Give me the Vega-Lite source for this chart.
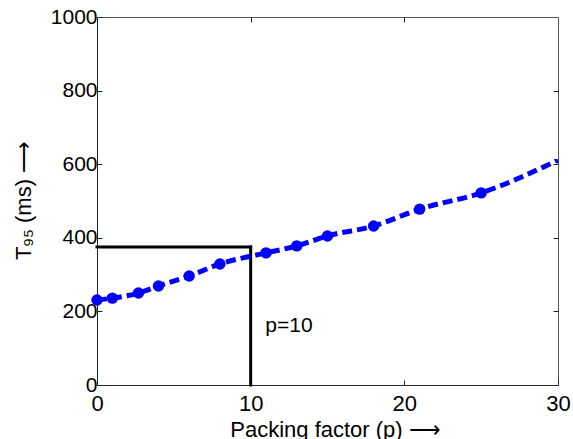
{
  "$schema": "https://vega.github.io/schema/vega-lite/v6.json",
  "width": 461,
  "height": 368,
  "autosize": "none",
  "padding": {"left": 97, "top": 17, "right": 15, "bottom": 54},
  "background": "white",
  "config": {
    "font": "Liberation Sans",
    "view": {"stroke": "#555", "strokeWidth": 1},
    "axis": {
      "grid": false,
      "domainColor": "#222",
      "tickColor": "#222",
      "labelColor": "#000",
      "titleColor": "#000",
      "labelFont": "Liberation Sans",
      "titleFont": "Liberation Sans",
      "labelFontSize": 21,
      "titleFontSize": 22,
      "titleFontWeight": "normal",
      "labelFlush": false,
      "labelOverlap": false
    }
  },
  "datasets": {
    "curve": [
      {"p": 0, "t": 231, "m": 1},
      {"p": 1, "t": 236, "m": 1},
      {"p": 2.7, "t": 250, "m": 1},
      {"p": 4, "t": 269, "m": 1},
      {"p": 6, "t": 296, "m": 1},
      {"p": 8, "t": 329, "m": 1},
      {"p": 11, "t": 359, "m": 1},
      {"p": 13, "t": 378, "m": 1},
      {"p": 15, "t": 405, "m": 1},
      {"p": 18, "t": 432, "m": 1},
      {"p": 21, "t": 478, "m": 1},
      {"p": 25, "t": 522, "m": 1},
      {"p": 30, "t": 611, "m": 0}
    ],
    "guide": [
      {"x": 0, "x2": 10, "y": 375, "y2": 375},
      {"x": 10, "x2": 10, "y": 0, "y2": 375}
    ],
    "note": [{"p": 10.95, "t": 160, "label": "p=10"}]
  },
  "layer": [
    {
      "data": {"name": "guide"},
      "mark": {"type": "rule", "color": "#000", "strokeWidth": 3, "strokeCap": "square"},
      "encoding": {
        "x": {"field": "x", "type": "quantitative", "scale": {"domain": [0, 30], "nice": false},
          "axis": {"orient": "bottom", "values": [0, 10, 20, 30], "format": "d", "tickSize": -5, "labelFontSize": 22, "labelPadding": 13, "title": "Packing factor (p) ⟶", "titleX": 238, "titleY": 51, "titleBaseline": "alphabetic", "titleAlign": "center"}},
        "x2": {"field": "x2"},
        "y": {"field": "y", "type": "quantitative", "scale": {"domain": [0, 1000], "nice": false},
          "axis": {"orient": "left", "values": [0, 200, 400, 600, 800, 1000], "format": "d", "tickSize": -5, "labelPadding": 5, "title": "T₉₅ (ms) ⟶", "titleX": -67, "titleY": 183, "titleAngle": -90, "titleBaseline": "alphabetic", "titleAlign": "center"}},
        "y2": {"field": "y2"}
      }
    },
    {
      "data": {"name": "curve"},
      "mark": {"type": "line", "color": "#0000FF", "strokeWidth": 5, "strokeDash": [10, 5], "interpolate": "monotone"},
      "encoding": {
        "x": {"field": "p", "type": "quantitative", "axis": {"orient": "top", "values": [10, 20], "tickSize": -5, "labels": false, "domain": false, "title": null}},
        "y": {"field": "t", "type": "quantitative", "axis": {"orient": "right", "values": [200, 400, 600, 800], "tickSize": -5, "labels": false, "domain": false, "title": null}}
      }
    },
    {
      "data": {"name": "curve"},
      "transform": [{"filter": "datum.m == 1"}],
      "mark": {"type": "circle", "color": "#0000FF", "opacity": 1, "size": 130},
      "encoding": {
        "x": {"field": "p", "type": "quantitative", "axis": null},
        "y": {"field": "t", "type": "quantitative", "axis": null}
      }
    },
    {
      "data": {"name": "note"},
      "mark": {"type": "text", "align": "left", "baseline": "middle", "fontSize": 21, "color": "#000", "font": "Liberation Sans"},
      "encoding": {
        "x": {"field": "p", "type": "quantitative", "axis": null},
        "y": {"field": "t", "type": "quantitative", "axis": null},
        "text": {"field": "label"}
      }
    }
  ],
  "resolve": {"axis": {"x": "independent", "y": "independent"}}
}
